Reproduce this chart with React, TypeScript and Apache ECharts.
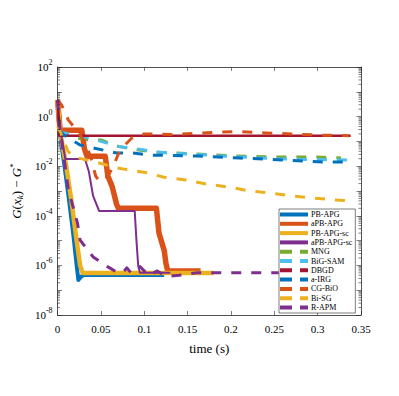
import React, { useEffect, useRef } from 'react';
import * as echarts from 'echarts';

// ---- data (time in seconds, value of G(x_k) - G*) ----
const seriesNames = ['PB-APG', 'aPB-APG', 'PB-APG-sc', 'aPB-APG-sc', 'MNG', 'BiG-SAM', 'DBGD', 'a-IRG', 'CG-BiO', 'Bi-SG', 'R-APM'];
const xTicks = [0, 0.05, 0.1, 0.15, 0.2, 0.25, 0.3, 0.35];
const yDecades = [-8, -7, -6, -5, -4, -3, -2, -1, 0, 1, 2];

const pbApgT = [0, 0.002, 0.008, 0.013, 0.018, 0.022, 0.024, 0.027, 0.03, 0.123];
const pbApgV = [4.7, 0.3, 1e-2, 5e-4, 2e-5, 1e-6, 2.6e-7, 3.5e-7, 4.1e-7, 4.1e-7];

const apbApgT = [0, 0.003, 0.028, 0.031, 0.034, 0.055, 0.058, 0.063, 0.068, 0.07, 0.114, 0.117, 0.123, 0.125, 0.127, 0.165];
const apbApgV = [4.7, 0.28, 0.28, 0.05, 0.025, 0.025, 0.004, 0.0015, 3e-4, 2e-4, 2e-4, 2e-5, 4e-6, 1.2e-6, 6e-7, 6e-7];

const pbApgScT = [0, 0.003, 0.01, 0.016, 0.022, 0.026, 0.029, 0.18];
const pbApgScV = [4.7, 0.25, 1e-2, 4e-4, 1e-5, 1e-6, 4.9e-7, 4.9e-7];

const apbApgScT = [0, 0.003, 0.009, 0.0295, 0.032, 0.036, 0.041, 0.048, 0.089, 0.091, 0.093, 0.095, 0.13];
const apbApgScV = [4.7, 0.3, 0.0195, 0.0195, 0.0178, 0.0063, 6.3e-4, 1.55e-4, 1.55e-4, 1e-5, 1e-6, 5e-7, 5e-7];

const mngT = [0.002, 0.02, 0.0375, 0.05, 0.07, 0.09, 0.111, 0.16, 0.202, 0.251, 0.297, 0.327];
const mngV = [0.24, 0.138, 0.115, 0.115, 0.063, 0.047, 0.037, 0.031, 0.026, 0.0234, 0.0234, 0.0214];

const bigSamT = [0.002, 0.04, 0.07, 0.1, 0.115, 0.1875, 0.259, 0.335];
const bigSamV = [0.24, 0.126, 0.063, 0.045, 0.037, 0.026, 0.0195, 0.0178];

const dbgdT = [0, 0.002, 0.338];
const dbgdV = [4.7, 0.17, 0.17];

const airgT = [0.002, 0.007, 0.026, 0.068, 0.087, 0.108, 0.16, 0.21, 0.259, 0.308, 0.336];
const airgV = [0.3, 0.182, 0.071, 0.034, 0.034, 0.028, 0.0257, 0.0214, 0.0178, 0.0148, 0.0148];

const cgBioT = [0, 0.005, 0.0125, 0.02, 0.03, 0.038, 0.044, 0.048, 0.052, 0.058, 0.064, 0.072, 0.086, 0.1, 0.13, 0.16, 0.19, 0.21, 0.24, 0.27, 0.3, 0.336];
const cgBioV = [4.7, 2.8, 0.72, 0.35, 0.115, 0.025, 0.004, 0.0025, 0.0025, 0.004, 0.0093, 0.045, 0.14, 0.2, 0.19, 0.21, 0.24, 0.25, 0.22, 0.2, 0.18, 0.17];

const biSgT = [0, 0.003, 0.012, 0.02, 0.043, 0.069, 0.103, 0.123, 0.148, 0.172, 0.197, 0.222, 0.245, 0.27, 0.295, 0.319, 0.336];
const biSgV = [0.4, 0.25, 0.04, 0.023, 0.015, 0.0085, 0.0054, 0.0036, 0.0028, 0.0019, 0.00145, 0.001, 8.3e-4, 6.3e-4, 5.2e-4, 4.4e-4, 4e-4];

const rApmT = [0, 0.003, 0.0125, 0.023, 0.026, 0.041, 0.058, 0.068, 0.075, 0.08, 0.085, 0.095, 0.105, 0.115, 0.125, 0.14, 0.16, 0.19, 0.255];
const rApmV = [4.7, 0.3, 1.1e-3, 5.1e-5, 1.05e-5, 2.2e-6, 8.7e-7, 5.4e-7, 5e-7, 8e-7, 4.8e-7, 9e-7, 4e-7, 6e-7, 3.6e-7, 4e-7, 5e-7, 5e-7, 5e-7];

const colors = ['#0072BD', '#D95319', '#EDB120', '#7E2F8E', '#77AC30', '#4DBEEE', '#A2142F', '#0072BD', '#D95319', '#EDB120', '#7E2F8E'];
const widths = [4, 5.5, 4.5, 2, 3, 3, 2.5, 3, 3, 3, 3];
const dashed = [false, false, false, false, true, true, false, true, true, true, true];
const legendDashed = [false, false, false, false, true, true, true, true, true, true, true];
const allT = [pbApgT, apbApgT, pbApgScT, apbApgScT, mngT, bigSamT, dbgdT, airgT, cgBioT, biSgT, rApmT];
const allV = [pbApgV, apbApgV, pbApgScV, apbApgScV, mngV, bigSamV, dbgdV, airgV, cgBioV, biSgV, rApmV];

const FONT = "'Times New Roman', 'Liberation Serif', 'DejaVu Serif', serif";
const AX = '#262626';

export default function App() {
  const ref = useRef<HTMLDivElement>(null);
  useEffect(() => {
    document.body.style.margin = '0';
    const chart = echarts.init(ref.current!, null, { renderer: 'svg' });
    const dash = [10, 10];
    const lineSeries = seriesNames.map((name, i) => ({
      name,
      type: 'line',
      xAxisIndex: 0,
      yAxisIndex: 0,
      symbol: 'none',
      showSymbol: false,
      silent: true,
      data: allT[i].map((t, j) => [t, Math.log10(allV[i][j])]),
      lineStyle: {
        color: colors[i],
        width: widths[i],
        type: dashed[i] ? dash : 'solid',
        cap: 'butt',
        join: 'round',
      },
      itemStyle: { color: colors[i] },
      z: 2 + i,
    }));

    const minorTicks: number[][] = [];
    for (let n = -8; n < 2; n++) {
      for (let k = 2; k <= 9; k++) minorTicks.push([0, n + Math.log10(k)]);
    }
    const minorSeries = {
      type: 'custom',
      silent: true,
      xAxisIndex: 0,
      yAxisIndex: 0,
      data: minorTicks,
      encode: { x: 0, y: 1 },
      z: 20,
      renderItem: (params: any, api: any) => {
        const y = api.coord([0, api.value(1)])[1];
        const cs = params.coordSys;
        return {
          type: 'group',
          children: [
            { type: 'line', shape: { x1: cs.x, y1: y, x2: cs.x + 2.5, y2: y }, style: { stroke: AX, lineWidth: 0.6 } },
            { type: 'line', shape: { x1: cs.x + cs.width - 2.5, y1: y, x2: cs.x + cs.width, y2: y }, style: { stroke: AX, lineWidth: 0.6 } },
          ],
        };
      },
    };

    const legendData = seriesNames.map((name, i) => ({
      name,
      icon: legendDashed[i] ? 'path://M0,0h12v4h-12zM20,0h8v4h-8z' : 'rect',
      itemStyle: { color: colors[i] },
    }));

    const axisLineStyle = { onZero: false, lineStyle: { color: AX, width: 0.8 } };

    const option: any = {
      animation: false,
      backgroundColor: '#ffffff',
      textStyle: { fontFamily: FONT },
      grid: { left: 52, top: 67, width: 309, height: 248, containLabel: false },
      xAxis: [
        {
          type: 'value',
          min: 0,
          max: 0.35,
          interval: 0.05,
          position: 'bottom',
          axisLine: axisLineStyle,
          axisTick: { inside: true, length: 4, lineStyle: { color: AX, width: 0.6 } },
          axisLabel: { color: '#000', fontFamily: FONT, fontSize: 11, margin: 8, formatter: (v: number) => String(Number(v.toFixed(2))) },
          splitLine: { show: false },
          name: 'time (s)',
          nameLocation: 'middle',
          nameGap: 27,
          nameTextStyle: { color: '#000', fontFamily: FONT, fontSize: 13 },
        },
        {
          type: 'value',
          min: 0,
          max: 0.35,
          interval: 0.05,
          position: 'top',
          axisLine: axisLineStyle,
          axisTick: { inside: true, length: 4, lineStyle: { color: AX, width: 0.6 } },
          axisLabel: { show: false },
          splitLine: { show: false },
        },
      ],
      yAxis: [
        {
          type: 'value',
          min: yDecades[0],
          max: yDecades[yDecades.length - 1],
          interval: 1,
          position: 'left',
          axisLine: axisLineStyle,
          axisTick: { inside: true, length: 4.5, lineStyle: { color: AX, width: 0.6 } },
          axisLabel: {
            color: '#000',
            fontFamily: FONT,
            margin: 5,
            formatter: (v: number) => (Math.round(v) % 2 === 0 ? `{b|10}{s|${Math.round(v)}}` : ''),
            rich: {
              b: { fontFamily: FONT, fontSize: 11, color: '#000' },
              s: { fontFamily: FONT, fontSize: 8, color: '#000', padding: [0, 0, 9, 0] },
            },
          },
          splitLine: { show: false },
          name: '{i|G}{n|(}{i|x}{k|k}{n|) − }{i|G}{st|*}',
          nameLocation: 'middle',
          nameRotate: 90,
          nameGap: 30,
          nameTextStyle: {
            rich: {
              i: { fontFamily: FONT, fontSize: 13, fontStyle: 'italic', color: '#000' },
              n: { fontFamily: FONT, fontSize: 13, color: '#000' },
              k: { fontFamily: FONT, fontSize: 9, fontStyle: 'italic', color: '#000', padding: [6, 0, 0, 0] },
              st: { fontFamily: FONT, fontSize: 9, color: '#000', padding: [0, 0, 8, 0] },
            },
          },
        },
        {
          type: 'value',
          min: yDecades[0],
          max: yDecades[yDecades.length - 1],
          interval: 1,
          position: 'right',
          axisLine: axisLineStyle,
          axisTick: { inside: true, length: 4.5, lineStyle: { color: AX, width: 0.6 } },
          axisLabel: { show: false },
          splitLine: { show: false },
        },
      ],
      legend: {
        data: legendData,
        orient: 'vertical',
        left: 279,
        top: 209,
        padding: [1, 3, 1, 1],
        itemGap: 0.3,
        itemWidth: 28,
        itemHeight: 4,
        symbolKeepAspect: false,
        backgroundColor: '#ffffff',
        borderColor: '#262626',
        borderWidth: 0.6,
        borderRadius: 0,
        selectedMode: false,
        textStyle: { fontFamily: FONT, fontSize: 8, color: '#000', lineHeight: 9, padding: [0, 0, 0, -2] },
        z: 50,
      },
      series: [...lineSeries, minorSeries],
    };
    chart.setOption(option);
    return () => chart.dispose();
  }, []);
  return <div ref={ref} style={{ width: 399, height: 396 }} />;
}
